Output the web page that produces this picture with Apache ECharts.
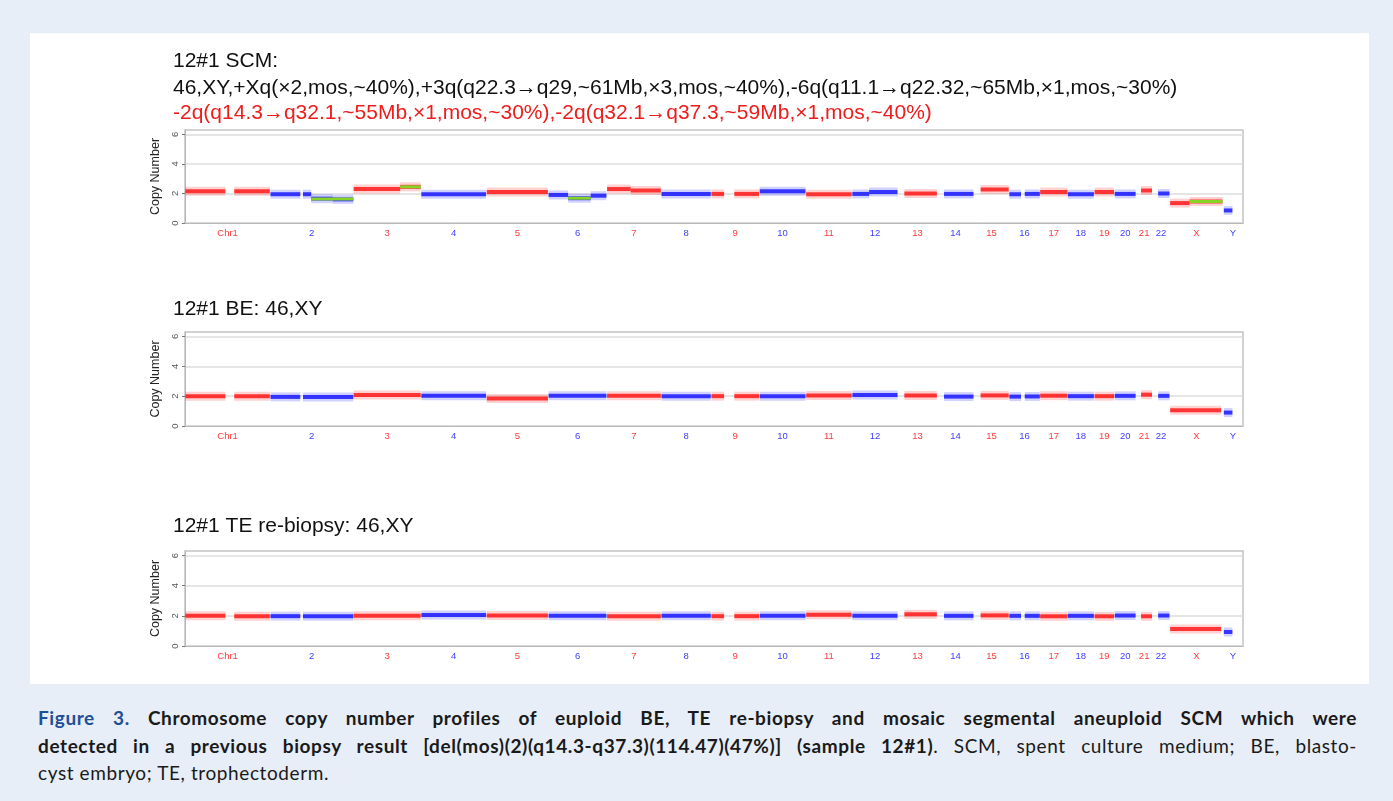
<!DOCTYPE html>
<html>
<head>
<meta charset="utf-8">
<script src="https://cdn.jsdelivr.net/npm/echarts@6/dist/echarts.min.js"></script>
<style>
  html, body { margin: 0; padding: 0; background: #e7eef8; }
  #panel { position: absolute; left: 30px; top: 33px; width: 1339px; height: 651px; background: #fff; }
  #chart { position: absolute; left: 0; top: 0; width: 1393px; height: 690px; }
  #caption { position: absolute; left: 38px; top: 704px; width: 1319px; font-family: Lato, "Open Sans", sans-serif; font-size: 19px; letter-spacing: 0.6px; line-height: 27.5px; color: #1a1a1a; }
  #caption .jl { text-align: justify; text-align-last: justify; }
  #caption .fig { color: #1f4f96; }
</style>
</head>
<body>
<div id="panel"></div>
<div id="chart"></div>
<div id="caption">
  <div class="jl"><b><span class="fig">Figure 3.</span> Chromosome copy number profiles of euploid BE, TE re-biopsy and mosaic segmental aneuploid SCM which were</b></div>
  <div class="jl"><b>detected in a previous biopsy result [del(mos)(2)(q14.3-q37.3)(114.47)(47%)] (sample 12#1)</b>. SCM, spent culture medium; BE, blasto-</div>
  <div>cyst embryo; TE, trophectoderm.</div>
</div>
<script>
  // chromosomes (hg19 lengths, Mb)
  const chrNames = ['Chr1', '2', '3', '4', '5', '6', '7', '8', '9', '10', '11', '12',
    '13', '14', '15', '16', '17', '18', '19', '20', '21', '22', 'X', 'Y'];
  const chrLengthMb = [249, 243, 198, 191, 181, 171, 159, 146, 141, 136, 135, 134,
    115, 107, 103, 90, 81, 78, 59, 63, 48, 51, 155, 59];
  const yLabelValues = [0, 2, 4, 6];

  // [chromosome (23 = X, 24 = Y), start Mb, end Mb, copy number]
  const scmSegments = [
    [1, 1, 118, 2.15], [1, 144, 248, 2.15],
    [2, 1, 88, 1.95], [2, 96, 120, 1.95], [2, 120, 183, 1.65], [2, 183, 243, 1.6],
    [3, 1, 137, 2.3], [3, 137, 197, 2.45],
    [4, 1, 190, 1.95],
    [5, 1, 180, 2.1],
    [6, 1, 58, 1.9], [6, 58, 124, 1.68], [6, 124, 170, 1.85],
    [7, 1, 70, 2.3], [7, 70, 158, 2.2],
    [8, 1, 145, 1.97],
    [9, 1, 38, 1.97], [9, 68, 140, 1.97],
    [10, 1, 135, 2.15],
    [11, 1, 134, 1.95],
    [12, 1, 50, 1.97], [12, 50, 133, 2.1],
    [13, 19, 114, 2.0],
    [14, 20, 106, 1.97],
    [15, 20, 102, 2.27],
    [16, 1, 35, 1.95], [16, 46, 90, 1.97],
    [17, 1, 81, 2.1],
    [18, 1, 77, 1.95],
    [19, 1, 58, 2.1],
    [20, 1, 62, 1.97],
    [21, 15, 47, 2.2],
    [22, 17, 50, 2.0],
    [23, 1, 58, 1.35], [23, 58, 154, 1.45],
    [24, 3, 28, 0.85]
  ];
  // segments called as mosaic CNV (green)
  const scmCalls = [
    [2, 120, 243, 1.62], [3, 137, 197, 2.45], [6, 58, 124, 1.68], [23, 58, 154, 1.45]
  ];

  const beSegments = [
    [1, 1, 118, 2.0], [1, 144, 248, 2.0],
    [2, 1, 88, 1.95], [2, 96, 243, 1.95],
    [3, 1, 197, 2.08],
    [4, 1, 190, 2.03],
    [5, 1, 180, 1.85],
    [6, 1, 170, 2.03],
    [7, 1, 158, 2.02],
    [8, 1, 145, 2.0],
    [9, 1, 38, 2.0], [9, 68, 140, 2.0],
    [10, 1, 135, 2.0],
    [11, 1, 134, 2.05],
    [12, 1, 133, 2.07],
    [13, 19, 114, 2.05],
    [14, 20, 106, 1.97],
    [15, 20, 102, 2.05],
    [16, 1, 35, 1.97], [16, 46, 90, 1.98],
    [17, 1, 81, 2.03],
    [18, 1, 77, 2.0],
    [19, 1, 58, 2.0],
    [20, 1, 62, 2.02],
    [21, 15, 47, 2.1],
    [22, 17, 50, 2.02],
    [23, 1, 150, 1.06],
    [24, 3, 28, 0.9]
  ];

  const teSegments = [
    [1, 1, 118, 2.0], [1, 144, 248, 1.98],
    [2, 1, 88, 1.98], [2, 96, 243, 1.98],
    [3, 1, 197, 2.0],
    [4, 1, 190, 2.05],
    [5, 1, 180, 2.02],
    [6, 1, 170, 2.0],
    [7, 1, 158, 1.97],
    [8, 1, 145, 2.0],
    [9, 1, 38, 1.98], [9, 68, 140, 1.98],
    [10, 1, 135, 2.0],
    [11, 1, 134, 2.08],
    [12, 1, 133, 2.0],
    [13, 19, 114, 2.1],
    [14, 20, 106, 2.0],
    [15, 20, 102, 2.03],
    [16, 1, 35, 2.0], [16, 46, 90, 2.0],
    [17, 1, 81, 1.97],
    [18, 1, 77, 2.0],
    [19, 1, 58, 1.97],
    [20, 1, 62, 2.02],
    [21, 15, 47, 1.97],
    [22, 17, 50, 2.02],
    [23, 1, 150, 1.12],
    [24, 3, 28, 0.93]
  ];

  const RED = '#ff1a1a';
  const BLUE = '#1a1aff';
  const GREEN = '#86d425';

  // cumulative genome offsets
  const chrStart = [];
  let acc = 0;
  chrLengthMb.forEach(len => { chrStart.push(acc); acc += len; });
  const genomeEnd = acc;
  const chrCenter = chrLengthMb.map((len, i) => chrStart[i] + len / 2);

  function toGenome(segs) {
    return segs.map(s => [chrStart[s[0] - 1] + s[1], chrStart[s[0] - 1] + s[2], s[3], (s[0] - 1) % 2]);
  }

  function renderSegment(params, api) {
    const a = api.coord([api.value(0), api.value(2)]);
    const b = api.coord([api.value(1), api.value(2)]);
    const color = api.value(3) ? BLUE : RED;
    const w = b[0] - a[0];
    return {
      type: 'group',
      children: [
        { type: 'rect', shape: { x: a[0], y: a[1] - 4.5, width: w, height: 9 }, style: { fill: color, opacity: 0.2 } },
        { type: 'rect', shape: { x: a[0], y: a[1] - 2, width: w, height: 4 }, style: { fill: color, opacity: 0.85 } }
      ]
    };
  }

  function renderCall(params, api) {
    const a = api.coord([api.value(0), api.value(2)]);
    const b = api.coord([api.value(1), api.value(2)]);
    return {
      type: 'rect',
      shape: { x: a[0], y: a[1] - 1.5, width: b[0] - a[0], height: 3 },
      style: { fill: GREEN }
    };
  }

  const grids = [
    { left: 185, top: 130, width: 1058, height: 93 },
    { left: 185, top: 332, width: 1058, height: 94 },
    { left: 185, top: 551, width: 1058, height: 95 }
  ];

  const xAxes = grids.map((g, i) => ({
    type: 'value',
    gridIndex: i,
    min: 0,
    max: genomeEnd,
    splitLine: { show: false },
    axisTick: { show: false },
    axisLine: { show: true, lineStyle: { color: '#b8b8b8' } },
    axisLabel: {
      customValues: chrCenter,
      margin: 5,
      fontSize: 9.5,
      fontFamily: 'Liberation Sans',
      formatter: v => {
        const k = chrCenter.findIndex(c => Math.abs(c - v) < 0.01);
        return k < 0 ? '' : (k % 2 ? '{b|' : '{r|') + chrNames[k] + '}';
      },
      rich: {
        r: { color: '#ff3b3b', fontSize: 9.5, fontFamily: 'Liberation Sans' },
        b: { color: '#4040ff', fontSize: 9.5, fontFamily: 'Liberation Sans' }
      }
    }
  }));

  // grid line colours in tick order 0,1,...,6,6.3 (none at 6)
  const gridLineColors = ['#dcdcdc', '#dcdcdc', '#dcdcdc', '#dcdcdc', '#dcdcdc', '#dcdcdc', 'rgba(0,0,0,0)', '#c4c4c4'];

  const yAxes = grids.map((g, i) => ({
    type: 'value',
    gridIndex: i,
    min: 0,
    max: 6.3,
    interval: 1,
    name: 'Copy Number',
    nameLocation: 'middle',
    nameGap: 20,
    nameTextStyle: { fontSize: 12.5, color: '#222', fontFamily: 'Liberation Sans' },
    axisLine: { show: true, lineStyle: { color: '#b8b8b8' } },
    axisTick: { show: true, customValues: yLabelValues, length: 3, lineStyle: { color: '#777' } },
    axisLabel: {
      customValues: yLabelValues,
      rotate: 90,
      margin: 5,
      fontSize: 9.5,
      color: '#555',
      fontFamily: 'Liberation Sans'
    },
    splitLine: { show: true, lineStyle: { color: gridLineColors, width: 1.5 } }
  }));

  const titleStyle = { fontSize: 21, fontWeight: 'normal', color: '#111', fontFamily: 'Liberation Sans' };

  const option = {
    animation: false,
    backgroundColor: 'transparent',
    title: [
      { text: '12#1 SCM:', left: 173, top: 51, padding: 0, textStyle: titleStyle },
      { text: '46,XY,+Xq(×2,mos,~40%),+3q(q22.3→q29,~61Mb,×3,mos,~40%),-6q(q11.1→q22.32,~65Mb,×1,mos,~30%)', left: 173, top: 78, padding: 0, textStyle: titleStyle },
      { text: '-2q(q14.3→q32.1,~55Mb,×1,mos,~30%),-2q(q32.1→q37.3,~59Mb,×1,mos,~40%)', left: 173, top: 103, padding: 0, textStyle: Object.assign({}, titleStyle, { color: '#ee1c1c' }) },
      { text: '12#1 BE: 46,XY', left: 173, top: 299, padding: 0, textStyle: titleStyle },
      { text: '12#1 TE re-biopsy: 46,XY', left: 173, top: 516, padding: 0, textStyle: titleStyle }
    ],
    grid: grids.map(g => Object.assign({ show: true, borderColor: '#c4c4c4', borderWidth: 1.5, backgroundColor: '#fff' }, g)),
    xAxis: xAxes,
    yAxis: yAxes,
    series: [
      { type: 'custom', xAxisIndex: 0, yAxisIndex: 0, renderItem: renderSegment, data: toGenome(scmSegments), encode: { x: [0, 1], y: 2 }, clip: true },
      { type: 'custom', xAxisIndex: 0, yAxisIndex: 0, renderItem: renderCall, data: toGenome(scmCalls), encode: { x: [0, 1], y: 2 }, clip: true, z: 3 },
      { type: 'custom', xAxisIndex: 1, yAxisIndex: 1, renderItem: renderSegment, data: toGenome(beSegments), encode: { x: [0, 1], y: 2 }, clip: true },
      { type: 'custom', xAxisIndex: 2, yAxisIndex: 2, renderItem: renderSegment, data: toGenome(teSegments), encode: { x: [0, 1], y: 2 }, clip: true }
    ]
  };

  const chartInstance = echarts.init(document.getElementById('chart'));
  chartInstance.setOption(option);
</script>
</body>
</html>
